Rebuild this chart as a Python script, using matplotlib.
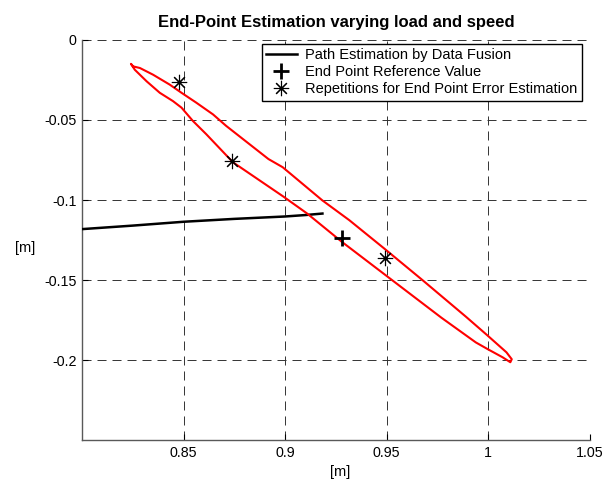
import matplotlib
matplotlib.use("Agg")
import matplotlib.pyplot as plt
from matplotlib.lines import Line2D

plt.rcParams['font.family'] = ['Liberation Sans', 'DejaVu Sans']
plt.rcParams['font.size'] = 10
plt.rcParams['lines.scale_dashes'] = False

# Estimated path by data fusion (black line)
path_x = [0.800, 0.825, 0.850, 0.875, 0.900, 0.910, 0.919]
path_y = [-0.1182, -0.1160, -0.1136, -0.1118, -0.1103, -0.1094, -0.1084]

# Red closed loop of end-point estimates (upper edge, then lower edge back)
loop_x = [0.8252, 0.8285, 0.8350, 0.8432, 0.8490, 0.8563, 0.8645, 0.8710,
          0.8918, 0.8988, 0.9183, 0.9316, 0.9486, 0.9674, 0.9890,
          0.9996, 1.0090, 1.0116, 1.0109,
          1.0071, 0.9996, 0.9939, 0.9769, 0.9524, 0.9278, 0.9108, 0.8992,
          0.8743, 0.8612, 0.8546, 0.8490, 0.8448, 0.8383, 0.8318, 0.8260,
          0.8241, 0.8252]
loop_y = [-0.0165, -0.0175, -0.0217, -0.0279, -0.0330, -0.0392, -0.0465, -0.0537,
          -0.0744, -0.0795, -0.1002, -0.1126, -0.1301, -0.1498, -0.1729,
          -0.1846, -0.1952, -0.1995, -0.2014,
          -0.1983, -0.1931, -0.1890, -0.1735, -0.1498, -0.1260, -0.1084, -0.0979,
          -0.0764, -0.0589, -0.0506, -0.0423, -0.0382, -0.0330, -0.0258, -0.0186,
          -0.0149, -0.0165]

# End point reference value
ref_x = [0.928]
ref_y = [-0.124]

# Repetitions for end point error estimation
rep_x = [0.848, 0.874, 0.949]
rep_y = [-0.0264, -0.0758, -0.1363]

xticks = [0.85, 0.9, 0.95, 1.0, 1.05]
xtick_labels = ['0.85', '0.9', '0.95', '1', '1.05']
yticks = [0, -0.05, -0.1, -0.15, -0.2]
ytick_labels = ['0', '-0.05', '-0.1', '-0.15', '-0.2']

labels = ['Path Estimation by Data Fusion',
          'End Point Reference Value',
          'Repetitions for End Point Error Estimation']

fig = plt.figure(figsize=(6.03, 4.79), dpi=100)
ax = fig.add_axes([0.136, 0.0814, 0.842, 0.8351])

asterisk = (8, 2, 0)

ax.plot(path_x, path_y, color='black', lw=1.8, solid_capstyle='butt', zorder=3)
ax.plot(loop_x, loop_y, color='#ff0000', lw=1.5, zorder=3)
ax.plot(ref_x, ref_y, linestyle='none', marker='+', markersize=11,
        markeredgewidth=2.0, color='black', zorder=4)
ax.plot(rep_x, rep_y, linestyle='none', marker=asterisk, markersize=11,
        markeredgewidth=0.8, color='black', zorder=4)

ax.set_xlim(0.8, 1.05)
ax.set_ylim(-0.25, 0)
ax.set_xticks(xticks)
ax.set_xticklabels(xtick_labels)
ax.set_yticks(yticks)
ax.set_yticklabels(ytick_labels)
ax.tick_params(direction='in', length=4, width=0.8, colors='black',
               labelsize=10.3, pad=4)

ax.grid(True, color='0.2', lw=0.7, linestyle=(0, (6.5, 4.3)))
ax.set_axisbelow(True)
for side in ['top', 'right']:
    ax.spines[side].set_visible(False)
for side in ['left', 'bottom']:
    ax.spines[side].set_color('0.35')
    ax.spines[side].set_linewidth(1.0)

ax.set_title('End-Point Estimation varying load and speed',
             fontweight='bold', fontsize=12, pad=9)
ax.set_xlabel('[m]', fontsize=10.5)
ax.set_ylabel('[m]', rotation=0, va='center', ha='center', fontsize=10.5)
ax.xaxis.set_label_coords(0.508, -0.062)
ax.yaxis.set_label_coords(-0.113, 0.48)

handles = [
    Line2D([], [], color='black', lw=1.8),
    Line2D([], [], linestyle='none', marker='+', markersize=11,
           markeredgewidth=2.0, color='black'),
    Line2D([], [], linestyle='none', marker=asterisk, markersize=11,
           markeredgewidth=0.8, color='black'),
]
leg = ax.legend(handles, labels, loc='upper right',
                bbox_to_anchor=(0.985, 0.99), borderaxespad=0,
                fancybox=False, framealpha=1, edgecolor='black',
                handlelength=2.1, handletextpad=0.6, labelspacing=0.2,
                borderpad=0.3, fontsize=10.5)
leg.get_frame().set_linewidth(1.0)

fig.savefig('out.png', dpi=100)
